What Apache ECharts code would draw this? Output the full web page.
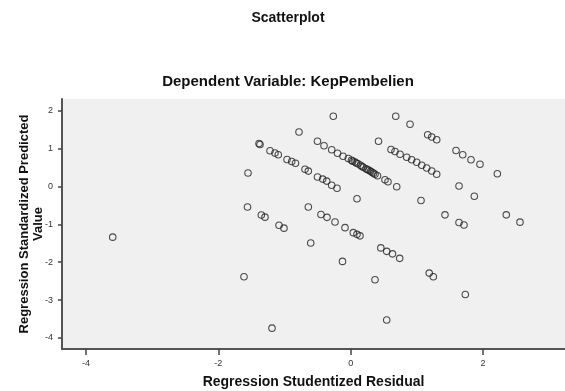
<!DOCTYPE html>
<html>
<head>
<meta charset="utf-8">
<script src="https://cdn.jsdelivr.net/npm/echarts@6/dist/echarts.min.js"></script>
<style>
  html, body { margin: 0; padding: 0; background: #fff; }
  #chart { width: 565px; height: 391px; }
</style>
</head>
<body>
<div id="chart"></div>
<script>
// residual (x) vs predicted (y)
const residual = [
  -3.595, -0.781, -0.263, 0.680, 0.896, 1.163, 1.224, 1.299, 1.591, 1.692,
  1.817, 1.953, 2.215, 0.420,
  0.609, 0.669, 0.745, 0.846, 0.921, 0.997, 1.073, 1.148, 1.224, 1.299,
  -0.502, -0.403, -0.287, -0.199, -0.116, -0.036, 0.012, 0.065, 0.110, 0.148,
  0.190, 0.231, 0.276, 0.322, 0.367, 0.405, 0.518, 0.563, 0.695,
  0.030, 0.085, 0.170, 0.250, 0.300, 0.345,
  -1.385, -1.370, -1.219, -1.144, -1.094, -0.962, -0.891, -0.834, -0.690, -0.640,
  -0.502, -0.423, -0.363, -0.287, -0.207,
  -1.551, 0.095, 1.062, 1.636, 1.867, 1.424, 1.636, 1.711, 2.350, 2.557,
  -1.559, -1.350, -1.295, -1.083, -1.008,
  -0.640, -0.449, -0.358, -0.237, -0.086, 0.039, 0.095, 0.140,
  -0.604, -0.124, 0.455, 0.544, 0.631, 0.740, 0.367, 1.186, 1.248, 1.731,
  0.544, -1.612, -1.189
];
const predicted = [
  -1.339, 1.439, 1.857, 1.857, 1.646, 1.368, 1.307, 1.235, 0.952, 0.839,
  0.706, 0.587, 0.336, 1.196,
  0.979, 0.926, 0.852, 0.772, 0.706, 0.640, 0.561, 0.487, 0.410, 0.323,
  1.196, 1.077, 0.971, 0.878, 0.799, 0.741, 0.693, 0.646, 0.601, 0.561,
  0.508, 0.468, 0.429, 0.376, 0.323, 0.283, 0.177, 0.124, -0.008,
  0.670, 0.620, 0.530, 0.450, 0.400, 0.350,
  1.135, 1.110, 0.944, 0.884, 0.839, 0.712, 0.659, 0.614, 0.455, 0.407,
  0.249, 0.196, 0.143, 0.032, -0.048,
  0.357, -0.325, -0.370, 0.013, -0.259, -0.749, -0.952, -1.019, -0.749, -0.942,
  -0.542, -0.754, -0.810, -1.026, -1.101,
  -0.542, -0.741, -0.815, -0.939, -1.087, -1.220, -1.265, -1.304,
  -1.495, -1.979, -1.622, -1.714, -1.780, -1.899, -2.463, -2.288, -2.384, -2.852,
  -3.526, -2.384, -3.743
];
const xTicks = [-4, -2, 0, 2];
const yTicks = [2, 1, 0, -1, -2, -3, -4];

const points = residual.map((v, i) => [v, predicted[i]]);

const chart = echarts.init(document.getElementById('chart'));
const font = 'Liberation Sans, Arial, sans-serif';

chart.setOption({
  animation: false,
  backgroundColor: '#ffffff',
  title: [
    {
      text: 'Scatterplot',
      left: 283, top: 6, textAlign: 'center',
      textStyle: { fontFamily: font, fontSize: 14, fontWeight: 'bold', color: '#111' }
    },
    {
      text: 'Dependent Variable: KepPembelien',
      left: 283, top: 69, textAlign: 'center',
      textStyle: { fontFamily: font, fontSize: 15, fontWeight: 'bold', color: '#111' }
    }
  ],
  grid: {
    left: 62, top: 99, right: 0, bottom: 42,
    outerBoundsMode: 'none',
    containLabel: false,
    show: true, backgroundColor: '#f0f0f0', borderWidth: 0
  },
  xAxis: {
    type: 'value',
    min: -4.361, max: 3.237,
    name: 'Regression Studentized Residual',
    nameLocation: 'middle', nameGap: 26,
    nameTextStyle: { fontFamily: font, fontSize: 14, fontWeight: 'bold', color: '#111' },
    axisLine: { show: true, onZero: false, lineStyle: { color: '#555', width: 2 } },
    axisTick: { show: true, length: 6, customValues: xTicks, lineStyle: { color: '#444', width: 1.5 } },
    axisLabel: { customValues: xTicks, fontFamily: font, fontSize: 9, color: '#333', margin: 10 },
    splitLine: { show: false }
  },
  yAxis: {
    type: 'value',
    min: -4.294, max: 2.312,
    name: 'Regression Standardized Predicted\nValue',
    nameLocation: 'middle', nameGap: 17, nameRotate: 90,
    nameMoveOverlap: false,
    nameTextStyle: { fontFamily: font, fontSize: 13, fontWeight: 'bold', color: '#111', lineHeight: 14 },
    axisLine: { show: true, onZero: false, lineStyle: { color: '#555', width: 2 } },
    axisTick: { show: true, length: 4, customValues: yTicks, lineStyle: { color: '#444', width: 1.5 } },
    axisLabel: { customValues: yTicks, fontFamily: font, fontSize: 9, color: '#333', margin: 9 },
    splitLine: { show: false }
  },
  series: [{
    type: 'scatter',
    data: points,
    symbol: 'circle',
    symbolSize: 6.5,
    itemStyle: { color: 'rgba(0,0,0,0)', borderColor: '#222', borderWidth: 1.1 }
  }]
});
</script>
</body>
</html>
